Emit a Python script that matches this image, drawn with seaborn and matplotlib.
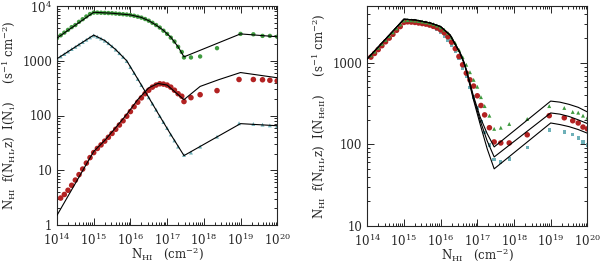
import numpy as np
import matplotlib
matplotlib.use("Agg")
import matplotlib.pyplot as plt
import seaborn as sns
from matplotlib.ticker import FuncFormatter, LogLocator, NullFormatter

# ---------------- left panel: model curves (log10 N_HI, value) ----------------
l_green_x = [14.0, 15.0, 15.5, 16.0, 16.3, 16.5, 16.7, 16.9, 17.1, 17.3, 17.46, 19.0, 20.0]
l_green_y = [2600, 7700, 7400, 6900, 6200, 5400, 4500, 3600, 2700, 1800, 1180, 3100, 2750]

l_cyan_x = [14.0, 15.0, 15.3, 15.6, 15.9, 16.2, 16.5, 16.8, 17.1, 17.46, 19.0, 20.0]
l_cyan_y = [1090, 2950, 2350, 1600, 1000, 465, 213, 97, 45, 18.5, 71, 65]

l_red_x = [14.0, 15.0, 15.3, 15.6, 15.9, 16.2, 16.5, 16.75, 17.0, 17.2, 17.46, 17.9, 18.4, 19.0, 20.0]
l_red_y = [1.5, 22, 35, 60, 105, 195, 320, 385, 360, 275, 195, 340, 450, 610, 490]

# ---------------- left panel: computed points ----------------
l_green_px = [14.0, 14.1, 14.2, 14.3, 14.4, 14.5, 14.6, 14.7, 14.8, 14.9, 15.0, 15.1, 15.2, 15.3,
              15.4, 15.5, 15.6, 15.7, 15.8, 15.9, 16.0, 16.1, 16.2, 16.3, 16.4, 16.5, 16.6, 16.7,
              16.8, 16.9, 17.0, 17.1, 17.2, 17.3, 17.4, 17.46, 17.65, 17.9, 18.36, 19.0, 19.35,
              19.6, 19.8, 20.0]
l_green_py = [2600, 2920, 3270, 3670, 4120, 4500, 5150, 5750, 6450, 7150, 7600, 7600, 7550, 7500,
              7450, 7400, 7300, 7200, 7100, 7000, 6850, 6650, 6400, 6150, 5800, 5400, 4950, 4500,
              4050, 3550, 3100, 2650, 2250, 1800, 1450, 1150, 1150, 1200, 1700, 3100, 3050,
              2850, 2850, 2750]

l_cyan_px = [14.0, 14.1, 14.2, 14.3, 14.4, 14.5, 14.6, 14.7, 14.8, 14.9, 15.0, 15.1, 15.2, 15.3,
             15.4, 15.5, 15.6, 15.7, 15.8, 15.9, 16.0, 16.1, 16.2, 16.3, 16.4, 16.5, 16.6, 16.7,
             16.8, 16.9, 17.0, 17.1, 17.2, 17.3, 17.46, 17.65, 17.9, 18.36, 18.96, 19.35, 19.6,
             19.8, 20.0]
l_cyan_py = [1090, 1200, 1330, 1480, 1640, 1800, 1990, 2200, 2430, 2680, 2900, 2750, 2550, 2330,
             2100, 1850, 1600, 1380, 1180, 990, 770, 600, 465, 360, 280, 215, 165, 128,
             98, 76, 59, 45, 35, 27, 19, 21, 27, 41, 72, 70, 68,
             66, 64]

l_red_px = [14.1, 14.2, 14.3, 14.4, 14.5, 14.6, 14.7, 14.8, 14.9, 15.0, 15.1, 15.2, 15.3, 15.4,
            15.5, 15.6, 15.7, 15.8, 15.9, 16.0, 16.1, 16.2, 16.3, 16.4, 16.5, 16.6, 16.7, 16.8,
            16.9, 17.0, 17.1, 17.2, 17.3, 17.4, 17.46, 17.65, 17.9, 18.36, 18.96, 19.35, 19.6,
            19.8, 20.0]
l_red_py = [3.1, 3.6, 4.3, 5.3, 6.6, 8.3, 10.5, 13.5, 17, 21, 25, 29, 34, 40,
            47, 56, 67, 80, 97, 118, 145, 175, 210, 250, 290, 330, 360, 380,
            375, 360, 330, 290, 250, 225, 180, 212, 240, 285, 455, 455, 450,
            440, 430]

# ---------------- right panel: model curves ----------------
r_top_x = [14.0, 15.0, 15.3, 15.72, 16.0, 16.26, 16.53, 16.64, 16.72, 16.89, 17.08, 17.27, 17.46,
           19.0, 19.25, 19.5, 19.75, 20.0]
r_top_y = [1120, 3450, 3380, 3100, 2800, 2220, 1350, 1020, 780, 400, 215, 135, 93,
           340, 330, 310, 285, 250]
r_mid_x = [14.0, 15.0, 15.3, 15.72, 16.0, 16.26, 16.53, 16.64, 16.72, 16.89, 17.08, 17.27, 17.46,
           19.0, 19.25, 19.5, 19.75, 20.0]
r_mid_y = [1120, 3450, 3380, 3100, 2800, 2200, 1330, 1000, 760, 380, 195, 110, 70,
           243, 235, 220, 200, 180]
r_bot_x = [14.0, 15.0, 15.3, 15.72, 16.0, 16.26, 16.53, 16.64, 16.72, 16.89, 17.08, 17.27, 17.46,
           19.0, 19.25, 19.5, 19.75, 20.0]
r_bot_y = [1120, 3450, 3380, 3100, 2800, 2180, 1310, 980, 740, 360, 175, 88, 50,
           183, 175, 165, 152, 137]

# ---------------- right panel: computed points ----------------
r_px = [14.1, 14.2, 14.3, 14.4, 14.5, 14.6, 14.7, 14.8, 14.9, 15.0, 15.1, 15.2, 15.3, 15.4,
        15.5, 15.6, 15.7, 15.8, 15.9, 16.0, 16.1, 16.2, 16.3, 16.4, 16.5, 16.6, 16.7, 16.8,
        16.9, 17.0, 17.1, 17.2, 17.33, 17.46, 17.64, 17.87, 18.36, 18.96, 19.37, 19.6, 19.75,
        19.88, 20.0]
r_green_py = [1240, 1380, 1540, 1720, 1920, 2130, 2380, 2660, 2970, 3320, 3360, 3340, 3310, 3270,
              3220, 3160, 3090, 3000, 2880, 2740, 2560, 2330, 2050, 1750, 1450, 1180, 950, 770,
              620, 510, 380, 295, 225, 155, 160, 178, 205, 295, 280, 250, 245,
              225, 213]
r_red_py = [1180, 1310, 1460, 1630, 1820, 2020, 2250, 2520, 2800, 3150, 3200, 3180, 3150, 3100,
            3050, 3000, 2920, 2820, 2700, 2550, 2350, 2100, 1800, 1500, 1200, 950, 750, 620,
            520, 395, 300, 230, 160, 107, 104, 104, 131, 225, 212, 195, 183,
            163, 155]
r_cyan_py = [1200, 1340, 1490, 1660, 1860, 2060, 2300, 2570, 2870, 3200, 3250, 3220, 3180, 3120,
             3050, 2970, 2870, 2740, 2580, 2380, 2150, 1900, 1650, 1400, 1150, 850, 680, 500,
             380, 280, 190, 140, 98, 65, 61, 66, 91, 150, 142, 131, 120,
             107, 98]

GREEN = "#3f9a3f"
RED = "#b22222"
CYAN = "#6db0b8"

sns.set_style("ticks")
plt.rcParams["font.family"] = ["DejaVu Serif"]
plt.rcParams["mathtext.fontset"] = "dejavuserif"
plt.rcParams["font.size"] = 8


def N(v):
    return 10.0 ** np.asarray(v)


def style_axes(ax, ylo, yhi, ylabel):
    ax.set_xscale("log")
    ax.set_yscale("log")
    ax.set_xlim(1e14, 1e20)
    ax.set_ylim(ylo, yhi)
    ax.xaxis.set_major_locator(LogLocator(base=10, numticks=10))
    ax.xaxis.set_minor_locator(LogLocator(base=10, subs=np.arange(2, 10), numticks=100))
    ax.xaxis.set_minor_formatter(NullFormatter())
    ax.xaxis.set_major_formatter(FuncFormatter(lambda v, p: r"$10^{%d}$" % round(np.log10(v))))
    ax.yaxis.set_minor_locator(LogLocator(base=10, subs=np.arange(2, 10), numticks=100))
    ax.yaxis.set_minor_formatter(NullFormatter())
    ax.yaxis.set_major_formatter(FuncFormatter(
        lambda v, p: r"$10^{4}$" if v >= 1e4 else "%d" % round(v)))
    ax.tick_params(which="both", direction="in", top=True, right=True, labelsize=8.5, width=0.7)
    ax.tick_params(which="major", length=5)
    ax.tick_params(which="minor", length=2.5)
    ax.tick_params(axis="x", which="major", pad=5)
    for s in ax.spines.values():
        s.set_linewidth(0.8)
    ax.set_xlabel(r"N$_{\rm HI}$   (cm$^{-2}$)", fontsize=8.5, labelpad=-1)
    ax.set_ylabel(ylabel, fontsize=8.5, labelpad=3)


fig = plt.figure(figsize=(6.0, 2.64), dpi=100)
ax1 = fig.add_axes([0.095, 0.148, 0.367, 0.829])
ax2 = fig.add_axes([0.612, 0.145, 0.367, 0.832])

# left panel
sns.scatterplot(x=N(l_green_px), y=l_green_py, ax=ax1, color=GREEN, marker="o", s=10,
                edgecolor="none", zorder=2)
sns.scatterplot(x=N(l_cyan_px), y=l_cyan_py, ax=ax1, color=CYAN, marker="^", s=8,
                edgecolor="none", zorder=2)
sns.scatterplot(x=N(l_red_px), y=l_red_py, ax=ax1, color=RED, marker="o", s=16,
                edgecolor="none", zorder=2)
for xs, ys in [(l_green_x, l_green_y), (l_cyan_x, l_cyan_y), (l_red_x, l_red_y)]:
    sns.lineplot(x=N(xs), y=ys, ax=ax1, color="black", lw=0.8, sort=False, zorder=3)
style_axes(ax1, 1, 1e4,
           r"N$_{\rm HI}$  f(N$_{\rm HI}$,z)  I(N$_{\rm i}$)     (s$^{-1}$ cm$^{-2}$)")
ax1.set_yticks([1, 10, 100, 1000, 1e4])

# right panel
sns.scatterplot(x=N(r_px), y=r_cyan_py, ax=ax2, color=CYAN, marker="s", s=6,
                edgecolor="none", zorder=2)
sns.scatterplot(x=N(r_px), y=r_red_py, ax=ax2, color=RED, marker="o", s=16,
                edgecolor="none", zorder=2)
sns.scatterplot(x=N(r_px), y=r_green_py, ax=ax2, color=GREEN, marker="^", s=8,
                edgecolor="none", zorder=2)
for xs, ys in [(r_top_x, r_top_y), (r_mid_x, r_mid_y), (r_bot_x, r_bot_y)]:
    sns.lineplot(x=N(xs), y=ys, ax=ax2, color="black", lw=0.8, sort=False, zorder=3)
style_axes(ax2, 10, 5000,
           r"N$_{\rm HI}$  f(N$_{\rm HI}$,z)  I(N$_{\rm HeII}$)     (s$^{-1}$ cm$^{-2}$)")
ax2.set_yticks([10, 100, 1000])

fig.savefig("out.png", dpi=100)
